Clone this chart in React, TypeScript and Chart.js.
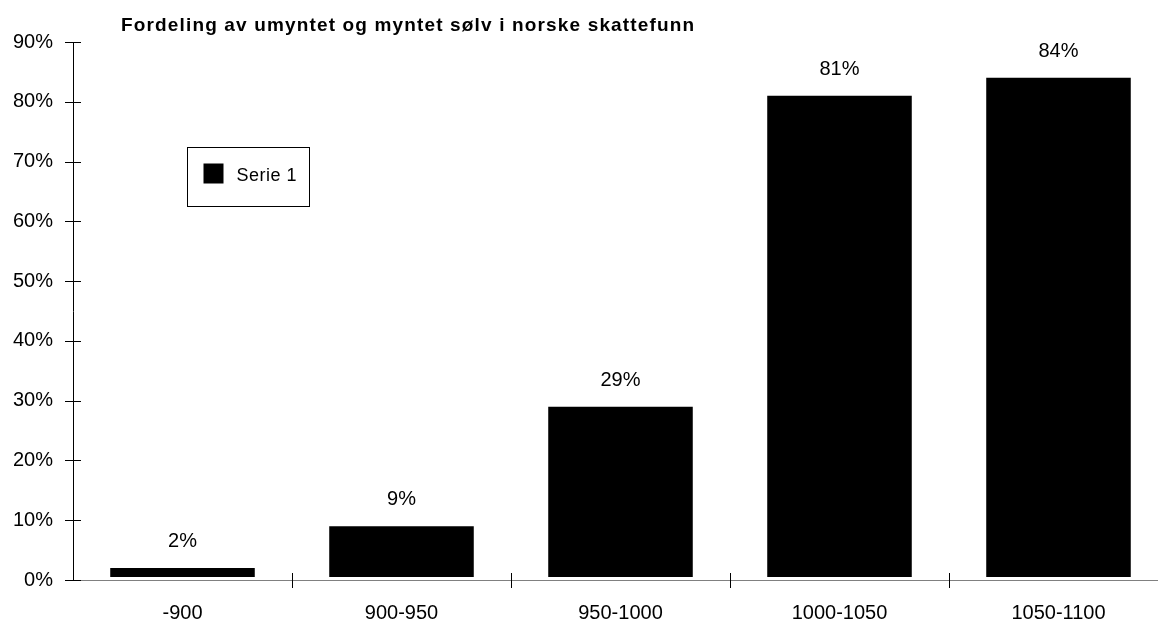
import React, { useEffect, useRef } from "react";
import { Chart, registerables } from "chart.js";

Chart.register(...registerables);

const TITLE = "Fordeling av umyntet og myntet sølv i norske skattefunn";
const SERIES_NAME = "Serie 1";
const CATEGORIES = ["-900", "900-950", "950-1000", "1000-1050", "1050-1100"];
const VALUES = [2, 9, 29, 81, 84];
const Y_MIN = 0;
const Y_MAX = 90;
const Y_STEP = 10;

const FONT = '"Liberation Sans", Arial, Helvetica, sans-serif';

const decorPlugin = {
  id: "decor",
  afterDatasetsDraw(chart: any) {
    const { ctx, chartArea, scales } = chart;
    const x = scales.x;
    const y = scales.y;
    ctx.save();
    // tick marks crossing the axes
    ctx.strokeStyle = "#000";
    ctx.lineWidth = 1;
    ctx.beginPath();
    for (let v = Y_MIN; v <= Y_MAX; v += Y_STEP) {
      const py = Math.round(y.getPixelForValue(v)) + 0.5;
      ctx.moveTo(chartArea.left - 8, py);
      ctx.lineTo(chartArea.left + 8, py);
    }
    const n = CATEGORIES.length;
    for (let i = 1; i <= n; i++) {
      const px = Math.round(x.left + (i * (x.right - x.left)) / n) + 0.5;
      ctx.moveTo(px, chartArea.bottom - 7);
      ctx.lineTo(px, chartArea.bottom + 8);
    }
    ctx.stroke();

    // data labels
    ctx.fillStyle = "#000";
    ctx.font = `20px ${FONT}`;
    ctx.textAlign = "center";
    ctx.textBaseline = "alphabetic";
    const meta = chart.getDatasetMeta(0);
    meta.data.forEach((bar: any, i: number) => {
      ctx.fillText(VALUES[i] + "%", bar.x, bar.y - 21);
    });

    // title
    ctx.font = `bold 19px ${FONT}`;
    (ctx as any).letterSpacing = "1.15px";
    ctx.textAlign = "left";
    ctx.fillText(TITLE, chartArea.left + 48, 31);

    // legend box inside plot
    const lx = chartArea.left + 114.5;
    const ly = chartArea.top + 105.5;
    ctx.strokeStyle = "#000";
    ctx.strokeRect(lx, ly, 122, 59);
    ctx.fillStyle = chart.data.datasets[0].backgroundColor;
    ctx.fillRect(lx + 16, ly + 16, 20, 20);
    ctx.fillStyle = "#000";
    ctx.font = `18px ${FONT}`;
    (ctx as any).letterSpacing = "0.5px";
    ctx.textBaseline = "middle";
    ctx.fillText(chart.data.datasets[0].label, lx + 49, ly + 29);
    ctx.restore();
  },
};

export default function App() {
  const canvasRef = useRef<HTMLCanvasElement | null>(null);

  useEffect(() => {
    const canvas = canvasRef.current;
    if (!canvas) return;
    const chart = new Chart(canvas, {
      type: "bar",
      data: {
        labels: CATEGORIES,
        datasets: [
          {
            label: SERIES_NAME,
            data: VALUES,
            backgroundColor: "#000000",
            borderWidth: 0,
            base: 0.5,
            categoryPercentage: 1,
            barPercentage: 0.66,
          } as any,
        ],
      },
      options: {
        animation: false,
        responsive: true,
        maintainAspectRatio: false,
        layout: { padding: { top: 42, right: 4, left: 0, bottom: 0 } },
        plugins: {
          legend: { display: false },
          title: { display: false },
          tooltip: { enabled: false },
        },
        scales: {
          x: {
            grid: {
              display: true,
              drawOnChartArea: false,
              drawTicks: false,
              color: "rgba(0,0,0,0)",
              offset: true,
            },
            border: { display: true, color: "#808080", width: 1 },
            ticks: {
              color: "#000",
              font: { family: FONT, size: 20 },
              padding: 21,
              maxRotation: 0,
              autoSkip: false,
            },
            afterFit: (scale: any) => {
              scale.height = 44;
            },
          },
          y: {
            min: Y_MIN,
            max: Y_MAX,
            grid: {
              display: true,
              drawOnChartArea: false,
              drawTicks: false,
              color: "rgba(0,0,0,0)",
            },
            border: { display: true, color: "#000", width: 1 },
            ticks: {
              stepSize: Y_STEP,
              color: "#000",
              font: { family: FONT, size: 20 },
              padding: 20,
              callback: (v: any) => v + "%",
            },
            afterFit: (scale: any) => {
              scale.width = 73;
            },
          },
        },
      },
      plugins: [decorPlugin],
    });
    return () => chart.destroy();
  }, []);

  return (
    <div
      style={{
        position: "fixed",
        left: 0,
        top: 0,
        width: 1158,
        height: 624,
        overflow: "hidden",
        background: "#fff",
      }}
    >
      <div style={{ position: "relative", width: 1172, height: 624 }}>
        <canvas ref={canvasRef} />
      </div>
    </div>
  );
}
